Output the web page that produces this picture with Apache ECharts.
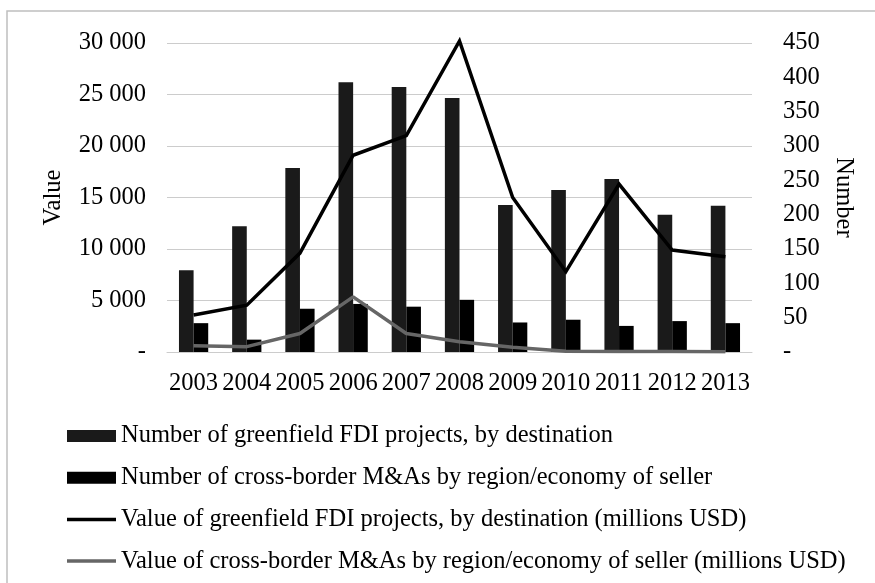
<!DOCTYPE html>
<html>
<head>
<meta charset="utf-8">
<script src="https://cdn.jsdelivr.net/npm/echarts@6/dist/echarts.min.js"></script>
<style>
  html, body { margin: 0; padding: 0; background: #fff; }
  #chart { width: 875px; height: 583px; }
</style>
</head>
<body>
<div id="chart"></div>
<script>
const years = ["2003", "2004", "2005", "2006", "2007", "2008", "2009", "2010", "2011", "2012", "2013"];
// right axis (Number)
const greenfieldProjects = [119, 183, 268, 393, 386, 370, 214, 236, 252, 200, 213];
const crossBorderDeals = [42, 18, 63, 70, 66, 76, 43, 47, 38, 45, 42];
// left axis (Value, millions USD)
const greenfieldValue = [3600, 4550, 9600, 19100, 21000, 30200, 15000, 7800, 16300, 9900, 9250];
const crossBorderValue = [610, 520, 1800, 5350, 1800, 1000, 450, 80, 40, 50, 20];

const seriesNames = [
  "Number of greenfield FDI projects, by destination",
  "Number of cross-border M&As by region/economy of seller",
  "Value of greenfield FDI projects, by destination (millions USD)",
  "Value of cross-border M&As by region/economy of seller (millions USD)",
];

const font = "Liberation Serif, Times New Roman, serif";
const fontSize = 24.5;
const gridColor = "#cccccc";
const lineIcon = "path://M0,0H49V3.5H0Z";

const fmtThousands = (v) => (v === 0 ? "-" : String(v).replace(/\B(?=(\d{3})+(?!\d))/g, " "));

const chart = echarts.init(document.getElementById("chart"));

chart.setOption({
  backgroundColor: "#fff",
  animation: false,
  textStyle: { fontFamily: font, color: "#000" },
  graphic: [{
    type: "rect",
    shape: { x: 7, y: 11, width: 900, height: 620 },
    style: { fill: "none", stroke: "#bfbfbf", lineWidth: 1.5 },
    silent: true,
  }],
  grid: { left: 167, right: 123, top: 43, bottom: 231 },
  legend: {
    orient: "vertical",
    left: 62,
    top: 417,
    itemWidth: 49,
    itemHeight: 12,
    itemGap: 13.7,
    textStyle: { fontFamily: font, fontSize: fontSize, color: "#000", lineHeight: 28 },
    data: [
      { name: seriesNames[0], icon: "rect" },
      { name: seriesNames[1], icon: "rect" },
      { name: seriesNames[2], icon: lineIcon },
      { name: seriesNames[3], icon: lineIcon },
    ],
  },
  xAxis: {
    type: "category",
    data: years,
    axisTick: { show: false },
    axisLine: { lineStyle: { color: gridColor, width: 1 } },
    axisLabel: { fontFamily: font, fontSize: fontSize, color: "#000", margin: 19, interval: 0 },
  },
  yAxis: [
    {
      type: "value",
      min: 0,
      max: 30000,
      interval: 5000,
      name: "Value",
      nameLocation: "middle",
      nameGap: 101,
      nameRotate: 90,
      nameTextStyle: { fontFamily: font, fontSize: fontSize, color: "#000" },
      axisLine: { show: false },
      axisTick: { show: false },
      splitLine: { lineStyle: { color: gridColor, width: 1 } },
      axisLabel: { fontFamily: font, fontSize: fontSize, color: "#000", margin: 21, formatter: fmtThousands },
    },
    {
      type: "value",
      min: 0,
      max: 450,
      interval: 50,
      name: "Number",
      nameLocation: "middle",
      nameGap: 77,
      nameRotate: -90,
      nameTextStyle: { fontFamily: font, fontSize: fontSize, color: "#000" },
      axisLine: { show: false },
      axisTick: { show: false },
      splitLine: { show: false },
      axisLabel: { fontFamily: font, fontSize: fontSize, color: "#000", margin: 31, formatter: fmtThousands },
    },
  ],
  series: [
    {
      name: seriesNames[0],
      type: "bar",
      yAxisIndex: 1,
      data: greenfieldProjects,
      barGap: "0%",
      barCategoryGap: "45%",
      itemStyle: { color: "#1a1a1a" },
    },
    {
      name: seriesNames[1],
      type: "bar",
      yAxisIndex: 1,
      data: crossBorderDeals,
      itemStyle: { color: "#000" },
    },
    {
      name: seriesNames[2],
      type: "line",
      yAxisIndex: 0,
      data: greenfieldValue,
      symbol: "none",
      clip: false,
      lineStyle: { color: "#000", width: 3.5, join: "miter" },
      itemStyle: { color: "#000" },
    },
    {
      name: seriesNames[3],
      type: "line",
      yAxisIndex: 0,
      data: crossBorderValue,
      symbol: "none",
      lineStyle: { color: "#666", width: 3.5 },
      itemStyle: { color: "#666" },
    },
  ],
});
</script>
</body>
</html>
